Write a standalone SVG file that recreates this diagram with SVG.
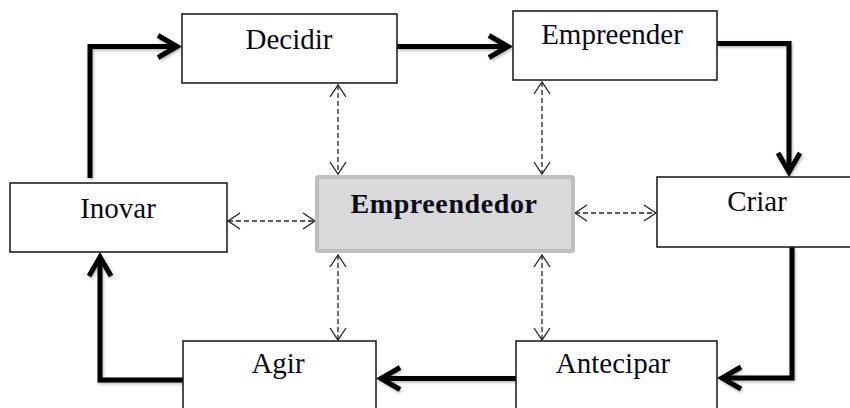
<svg xmlns="http://www.w3.org/2000/svg" width="850" height="408" viewBox="0 0 850 408">
<defs>
<style>
.box{fill:#fff;stroke:#222;stroke-width:1.6}
.lbl{font-family:"Liberation Serif","Times New Roman",serif;font-size:29px;fill:#0a0a1a;text-anchor:middle}
.bold{font-weight:bold;font-size:28px;letter-spacing:0.6px}
.flow{fill:none;stroke:#000;stroke-width:5;stroke-linejoin:miter;filter:url(#sh)}
.dash{fill:none;stroke:#222;stroke-width:1.3;stroke-dasharray:5 3}
</style>
<filter id="sh" filterUnits="userSpaceOnUse" x="0" y="0" width="850" height="408">
<feDropShadow dx="1" dy="1.5" stdDeviation="1.5" flood-color="#000" flood-opacity="0.3"/>
</filter>
<marker id="big" markerUnits="userSpaceOnUse" markerWidth="40" markerHeight="40" viewBox="-30 -20 40 40" refX="0" refY="0" orient="auto" overflow="visible">
<path d="M-19,-11 L0,0 L-19,11" fill="none" stroke="#000" stroke-width="5" stroke-linejoin="miter" stroke-miterlimit="10"/>
</marker>
<marker id="small" markerUnits="userSpaceOnUse" markerWidth="30" markerHeight="30" viewBox="-15 -15 30 30" refX="0" refY="0" orient="auto-start-reverse" overflow="visible">
<path d="M-12,-8 L0,0 L-12,8" fill="none" stroke="#222" stroke-width="1.3" stroke-dasharray="none"/>
</marker>
</defs>
<rect width="850" height="408" fill="#fff"/>

<g id="connectors">
<path class="flow" d="M90,178 V46.5 H177" marker-end="url(#big)"/>
<path class="flow" d="M397,46.5 H508" marker-end="url(#big)"/>
<path class="flow" d="M717,43.5 H789 V172" marker-end="url(#big)"/>
<path class="flow" d="M792,247 V378 H722" marker-end="url(#big)"/>
<path class="flow" d="M516,378.5 H381" marker-end="url(#big)"/>
<path class="flow" d="M185,380 H100 V257" marker-end="url(#big)"/>
<line class="dash" x1="338" y1="85" x2="338" y2="174" marker-start="url(#small)" marker-end="url(#small)"/>
<line class="dash" x1="542" y1="82" x2="542" y2="174" marker-start="url(#small)" marker-end="url(#small)"/>
<line class="dash" x1="338" y1="255" x2="338" y2="340" marker-start="url(#small)" marker-end="url(#small)"/>
<line class="dash" x1="542" y1="255" x2="542" y2="340" marker-start="url(#small)" marker-end="url(#small)"/>
<line class="dash" x1="228" y1="221" x2="315" y2="221" marker-start="url(#small)" marker-end="url(#small)"/>
<line class="dash" x1="575" y1="213" x2="656" y2="213" marker-start="url(#small)" marker-end="url(#small)"/>
</g>

<g id="decidir">
<rect class="box" x="182" y="14" width="215" height="69"/>
<text class="lbl" x="289" y="49">Decidir</text>
</g>
<g id="empreender">
<rect class="box" x="513" y="11" width="204" height="69"/>
<text class="lbl" x="612" y="44">Empreender</text>
</g>
<g id="criar">
<rect class="box" x="657" y="177" width="210" height="70"/>
<text class="lbl" x="757" y="211">Criar</text>
</g>
<g id="inovar">
<rect class="box" x="10" y="183" width="217" height="69"/>
<text class="lbl" x="118" y="218">Inovar</text>
</g>
<g id="empreendedor">
<rect x="317" y="177" width="256" height="74" rx="1.5" fill="#d9d9d9" stroke="#bfbfbf" stroke-width="4"/>
<text class="lbl bold" x="444" y="213">Empreendedor</text>
</g>
<g id="agir">
<rect class="box" x="183" y="341" width="193" height="80"/>
<text class="lbl" x="278" y="373">Agir</text>
</g>
<g id="antecipar">
<rect class="box" x="516" y="341" width="201" height="80"/>
<text class="lbl" x="613" y="373">Antecipar</text>
</g>
</svg>
